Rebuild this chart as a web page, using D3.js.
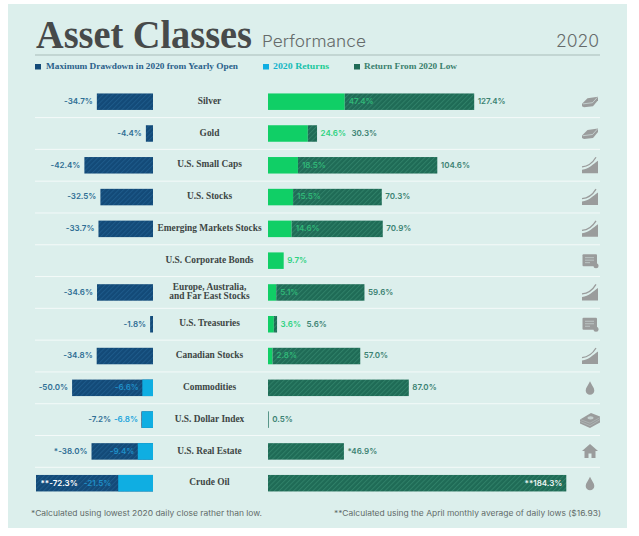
<!DOCTYPE html>
<html>
<head>
<meta charset="utf-8">
<style>
html,body{margin:0;padding:0;background:#fff;}
svg{display:block;}
.num{font-family:"Inter","Open Sans",sans-serif;font-weight:600;font-size:8px;}
.cat{font-family:"Liberation Serif",serif;font-weight:700;font-size:9.4px;fill:#3c4644;}
.leg{font-family:"Liberation Serif",serif;font-weight:700;font-size:8.6px;}
.foot{font-family:"Inter","Open Sans",sans-serif;font-size:7.6px;fill:#5f6a68;}
</style>
<script src="https://cdnjs.cloudflare.com/ajax/libs/d3/7.8.5/d3.min.js"></script>
</head>
<body>
<svg id="c" width="639" height="536"></svg>
<script>
const categories=[["Silver"],["Gold"],["U.S. Small Caps"],["U.S. Stocks"],["Emerging Markets Stocks"],["U.S. Corporate Bonds"],["Europe, Australia,","and Far East Stocks"],["U.S. Treasuries"],["Canadian Stocks"],["Commodities"],["U.S. Dollar Index"],["U.S. Real Estate"],["Crude Oil"]];
const drawdown=[-34.7,-4.4,-42.4,-32.5,-33.7,null,-34.6,-1.8,-34.8,-50.0,-7.2,-38.0,-72.3];
const returns2020=[47.4,24.6,18.5,15.5,14.6,9.7,5.1,3.6,2.8,-6.6,-6.8,-9.4,-21.5];
const fromLow=[127.4,30.3,104.6,70.3,70.9,null,59.6,5.6,57.0,87.0,0.5,46.9,184.3];
const drawdownPrefix=["","","","","","","","","","","","*","**"];
const lowPrefix=["","","","","","","","","","","","*","**"];
const icons=["bar","bar","curve","curve","curve","cert","curve","cert","curve","drop","cash","house","drop"];
const legendItems=["Maximum Drawdown in 2020 from Yearly Open","2020 Returns","Return From 2020 Low"];
const footnotes=["*Calculated using lowest 2020 daily close rather than low.","**Calculated using the April monthly average of daily lows ($16.93)"];

const C={bg:"#dcefec",navy:"#134a78",navyS:"#1d5a8a",teal:"#1f6b56",tealS:"#2f8068",green:"#10cf66",sky:"#0faee2",
  navyT:"#2f6e94",greenT:"#2dd27f",greenDim:"#2fb877",skyT:"#22a5dc",skyDim:"#1f8fc8",tealT:"#3b8272",icon:"#9a9c9c",rule:"#a9bcb9"};
const svg=d3.select("#c");
const defs=svg.append("defs");
function hatch(id,b,s){
  const p=defs.append("pattern").attr("id",id).attr("width",3.4).attr("height",3.4)
    .attr("patternUnits","userSpaceOnUse").attr("patternTransform","rotate(45)");
  p.append("rect").attr("width",3.4).attr("height",3.4).attr("fill",b);
  p.append("rect").attr("width",1).attr("height",3.4).attr("fill",s);
}
hatch("hN",C.navy,C.navyS);hatch("hT",C.teal,C.tealS);
const lg=defs.append("linearGradient").attr("id","lgR").attr("gradientUnits","userSpaceOnUse")
  .attr("x1",273).attr("x2",329).attr("y1",0).attr("y2",0);
lg.append("stop").attr("offset",0).attr("stop-color","#14b0d0");
lg.append("stop").attr("offset",1).attr("stop-color","#18cf8a");

svg.append("rect").attr("x",8).attr("y",4).attr("width",619).attr("height",524).attr("fill",C.bg);

// header
svg.append("text").attr("x",36).attr("y",48).attr("font-family","Liberation Serif").attr("font-weight",700)
  .attr("font-size",39).attr("fill","#474a4a").attr("textLength",216).attr("lengthAdjust","spacingAndGlyphs").text("Asset Classes");
svg.append("text").attr("x",262).attr("y",47).attr("font-family","Inter").attr("font-weight",300)
  .attr("font-size",16.5).attr("fill","#666b6b").attr("textLength",104).attr("lengthAdjust","spacingAndGlyphs").text("Performance");
svg.append("text").attr("x",599).attr("y",47).attr("text-anchor","end").attr("font-family","Inter").attr("font-weight",300)
  .attr("font-size",17.5).attr("fill","#666b6b").text("2020");
svg.append("line").attr("x1",35).attr("x2",600).attr("y1",55).attr("y2",55).attr("stroke",C.rule).attr("stroke-width",1);

// legend
const legX=[[35,46,192],[263,273,56],[354,364,93]];
const legCol=[C.navy,C.sky,C.teal],legTxt=["#2a5f8a","url(#lgR)","#3a7f6c"];
legendItems.forEach((t,i)=>{
  svg.append("rect").attr("x",legX[i][0]).attr("y",64).attr("width",6).attr("height",5.5).attr("fill",legCol[i]);
  svg.append("text").attr("class","leg").attr("x",legX[i][1]).attr("y",69.2).attr("fill",legTxt[i])
    .attr("textLength",legX[i][2]).attr("lengthAdjust","spacingAndGlyphs").text(t);
});

// scales
const idx=d3.range(categories.length);
const y=d3.scalePoint().domain(idx).range([101.7,483.2]);
const barH=16.5;
const xL=d3.scaleLinear().domain([0,-72.3]).range([153,36]);
const xR=d3.scaleLinear().domain([0,184.3]).range([268,566.3]);
const fmt=v=>v.toFixed(1)+"%";

// row separators
const g=svg.append("g");
g.selectAll("line.sep").data(idx.slice(0,-1)).join("line")
  .attr("x1",35).attr("x2",600)
  .attr("y1",d=>(y(d)+y(d+1))/2).attr("y2",d=>(y(d)+y(d+1))/2)
  .attr("stroke","#f4faf9").attr("stroke-width",1);

function bar(x0,x1,yc,fill){
  g.append("rect").attr("x",Math.min(x0,x1)).attr("width",Math.abs(x1-x0))
   .attr("y",yc-barH/2).attr("height",barH).attr("fill",fill);
}
function label(x,yc,txt,anchor,col){
  return g.append("text").attr("class","num").attr("x",x).attr("y",yc+2.4).attr("text-anchor",anchor).attr("fill",col).text(txt);
}

idx.forEach(i=>{
  const yc=y(i),dd=drawdown[i],r=returns2020[i],fl=fromLow[i];
  // centre label
  const lines=categories[i];
  lines.forEach((t,k)=>{
    g.append("text").attr("class","cat").attr("x",209.5).attr("text-anchor","middle")
      .attr("y",yc+2.2+(k-(lines.length-1)/2)*8.6).text(t);
  });
  // left side
  if(dd!==null){
    bar(xL(0),xL(dd),yc,"url(#hN)");
    if(r<0) bar(xL(0),xL(r),yc,C.sky);
    const inside=xL(dd)<60;
    if(inside){
      label(xL(dd)+4.5,yc,drawdownPrefix[i]+fmt(dd),"start","#fff");
    }
    if(r<0 && Math.abs(dd-r)<1){
      label(xL(r)-4,yc,fmt(r),"end",C.skyT);
      label(xL(r)-31,yc,fmt(dd),"end",C.navyT);
    }else{
      if(r<0) label(xL(r)-(inside?7:3.5),yc,fmt(r),"end",C.skyDim);
      if(!inside) label(xL(dd)-4,yc,drawdownPrefix[i]+fmt(dd),"end",C.navyT);
    }
  }
  // right side
  if(r>0) bar(xR(0),xR(r),yc,C.green);
  if(fl!==null){
    const s=r>0?r:0;
    bar(xR(s),xR(fl),yc,fl<1?C.tealT:"url(#hT)");
    if(r>0 && xR(fl)-xR(r)<30){
      const first=label(xR(fl)+3.5,yc,fmt(r),"start",C.greenT);
      const w=first.node().getComputedTextLength();
      label(xR(fl)+3.5+w+5.5,yc,fmt(fl),"start",C.tealT);
    }else{
      if(r>0) label(xR(r)+4,yc,fmt(r),"start",C.greenDim);
      if(xR(fl)>550) label(xR(fl)-4,yc,lowPrefix[i]+fmt(fl),"end","#eef6f4");
      else label(xR(fl)+3.5,yc,lowPrefix[i]+fmt(fl),"start",C.tealT);
    }
  }else{
    label(xR(r)+3.5,yc,fmt(r),"start",C.greenT);
  }
  drawIcon(icons[i],590,yc);
});

function drawIcon(kind,cx,cy){
  const k=g.append("g").attr("transform",`translate(${cx},${cy})`).attr("fill",C.icon);
  if(kind==="bar"){
    k.append("path").attr("d","M-8,2 L-2.5,-3.5 L8,-5 L8,-1.5 L3,4.5 L-6,5.5 L-8,4.5 Z");
    k.append("path").attr("d","M-7,2.2 L2.5,1 L7.5,-4.5").attr("stroke",C.bg).attr("stroke-width",0.6).attr("fill","none");
  }else if(kind==="curve"){
    k.append("path").attr("d","M-8,8 L-8,4.5 C-1,3.5 3,-1 8,-4.5 L8,8 Z");
    k.append("path").attr("d","M-8,1.5 C-1,1 3,-3 6,-8").attr("stroke",C.icon).attr("stroke-width",1.3).attr("fill","none");
  }else if(kind==="cert"){
    k.append("rect").attr("x",-7.5).attr("y",-6.5).attr("width",14.5).attr("height",12).attr("rx",1);
    k.append("path").attr("d","M-5,-3 H4 M-5,-0.5 H4 M-5,2 H0").attr("stroke","#c4cfce").attr("stroke-width",0.8).attr("fill","none");
    k.append("circle").attr("cx",6).attr("cy",5).attr("r",2.5);
  }else if(kind==="drop"){
    k.append("path").attr("d","M0,-6.5 C1.5,-3 4.3,0 4.3,2.7 A4.3,4.3 0 0 1 -4.3,2.7 C-4.3,0 -1.5,-3 0,-6.5 Z");
  }else if(kind==="cash"){
    k.append("path").attr("d","M-10,0 L1,-6.5 L10,-3 L10,3 L0,8.5 L-10,4 Z");
    k.append("path").attr("d","M-10,1.8 L0,6 L10,0 M-10,-0.2 L0,3.6 L10,-2").attr("stroke","#bcc7c6").attr("stroke-width",0.5).attr("fill","none");
    k.append("ellipse").attr("cx",0.5).attr("cy",-1.8).attr("rx",3).attr("ry",1.6).attr("fill","#c4cfce");
  }else{
    k.append("path").attr("d","M0,-7.5 L8,-0.5 L5.5,-0.5 L5.5,6.5 L1.5,6.5 L1.5,2 L-1.5,2 L-1.5,6.5 L-5.5,6.5 L-5.5,-0.5 L-8,-0.5 Z");
  }
}

// footnotes
svg.append("text").attr("class","foot").attr("x",31).attr("y",515.5).attr("textLength",231).attr("lengthAdjust","spacingAndGlyphs").text(footnotes[0]);
svg.append("text").attr("class","foot").attr("x",334).attr("y",515.5).attr("textLength",267).attr("lengthAdjust","spacingAndGlyphs").text(footnotes[1]);
</script>
</body>
</html>
